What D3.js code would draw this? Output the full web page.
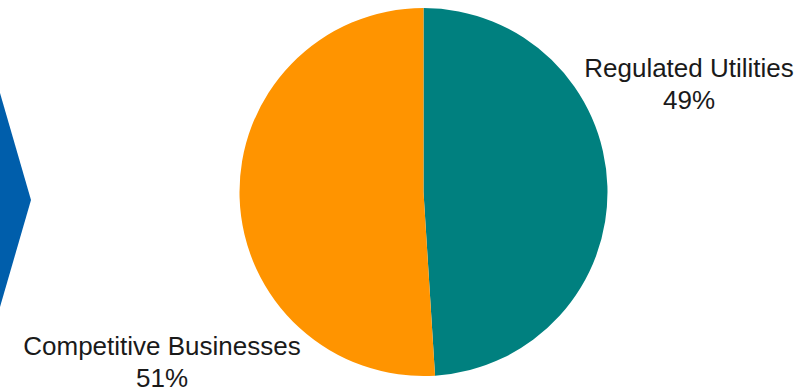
<!DOCTYPE html>
<html>
<head>
<meta charset="utf-8">
<script src="https://cdn.jsdelivr.net/npm/d3@7"></script>
<style>
  body { margin: 0; background: #fff; }
  svg { display: block; }
  text { font-family: "Liberation Sans", Arial, sans-serif; fill: #1a1a1a; }
</style>
</head>
<body>
<div id="chart"></div>
<script>
var width = 807
var height = 392

// Data
var categories = ['Regulated Utilities', 'Competitive Businesses']
var shares = [49, 51]
var colors = ['#00807f', '#ff9400']

var svg = d3
  .select('#chart')
  .append('svg')
  .attr('width', width)
  .attr('height', height)

// Blue chevron on the left edge (decoration)
svg
  .append('path')
  .attr('d', 'M-20,93 L0,93 L31,200 L0,307 L-20,307 Z')
  .attr('fill', '#005eab')

var cx = 423.5
var cy = 192
var radius = 184

var pie = d3
  .pie()
  .sort(null)
  .value(d => d.value)

var arc = d3.arc().innerRadius(0).outerRadius(radius)

var data = categories.map((c, i) => ({ name: c, value: shares[i], color: colors[i] }))

var g = svg.append('g').attr('transform', `translate(${cx},${cy})`)

g.selectAll('path')
  .data(pie(data))
  .enter()
  .append('path')
  .attr('d', arc)
  .attr('fill', d => d.data.color)

// Label positions (relative to pie centre)
var labelPos = [
  { x: 265.5, y: -115 },
  { x: -261.5, y: 163 }
]

var labels = g
  .selectAll('.label')
  .data(data)
  .enter()
  .append('text')
  .attr('class', 'label')
  .attr('text-anchor', 'middle')
  .attr('font-size', 26)
  .attr('transform', (d, i) => `translate(${labelPos[i].x},${labelPos[i].y})`)

labels.append('tspan').attr('x', 0).attr('dy', 0).text(d => d.name)
labels
  .append('tspan')
  .attr('x', 0)
  .attr('dy', 32)
  .text(d => d.value + '%')
</script>
</body>
</html>
